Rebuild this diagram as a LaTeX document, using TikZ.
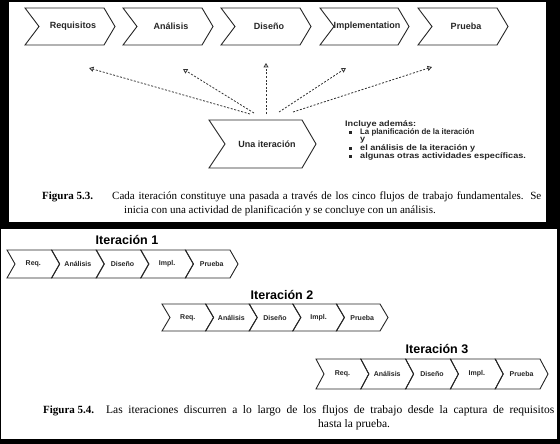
\documentclass[tikz,border=0pt]{standalone}
\usepackage{fontspec}
\setmainfont{Liberation Serif}
\newfontfamily\sansf{Liberation Sans}
\usetikzlibrary{arrows.meta}
\newcommand\chev[6]{\draw[chevline] (#1,#2) -- ++({#3-#6},0) -- ++(#6,{#4/2}) -- ++(-#6,{#4/2}) -- ++({-(#3-#6)},0) -- ++(#5,{-#4/2}) -- cycle;}
\newcommand\widetxt[1]{\scalebox{1.14}[1]{#1}}
\begin{document}
\begin{tikzpicture}[x=1pt,y=-1pt,
  chevline/.style={draw=black!85, line width=0.9pt, line join=miter},
  toplabel/.style={font=\sansf\bfseries\fontsize{9}{10}\selectfont, inner sep=0pt, text=black!85},
  smalllabel/.style={font=\sansf\bfseries\fontsize{7}{8}\selectfont, inner sep=0pt, text=black!85},
  itlabel/.style={font=\sansf\bfseries\fontsize{12.5}{13}\selectfont, inner sep=0pt},
  notelabel/.style={font=\sansf\bfseries\fontsize{8}{8}\selectfont, inner sep=0pt, anchor=west, text=black!85},
  bulletmark/.style={fill=black!85, minimum size=3pt, inner sep=0pt},
  caplabel/.style={font=\fontsize{11}{13}\selectfont, inner sep=0pt, anchor=west},
  capbold/.style={font=\bfseries\fontsize{11}{13}\selectfont, inner sep=0pt, anchor=west},
  dasharrow/.style={draw=black!80, line width=0.8pt, dash pattern=on 2pt off 1.6pt, -{Triangle[open,length=4.5pt,width=5pt]}}
]
\useasboundingbox (0,0) rectangle (560,444);
\fill[black] (0,0) rectangle (560,444);
\fill[white] (9,2) rectangle (546,222);
\fill[white] (1,229) rectangle (557,439);

% ---- top: five workflows
\chev{25}{8}{90}{37}{14}{11}
\chev{123}{8}{90}{37}{14}{11}
\chev{221}{8}{90}{37}{14}{11}
\chev{320}{8}{89}{37}{14}{11}
\chev{418}{8}{90}{37}{14}{11}
\node[toplabel] (req) at (73,26.5) {Requisitos};
\node[toplabel] (ana) at (171,26.5) {Análisis};
\node[toplabel] (dis) at (269,26.5) {Diseño};
\node[toplabel] (imp) at (367,26.5) {Implementation};
\node[toplabel] (pru) at (466,26.5) {Prueba};

% ---- one iteration
\chev{209}{120}{107}{48}{16}{14}
\node[toplabel] (una) at (267,144) {Una iteración};

% ---- dashed arrows
\coordinate (t1) at (250,114); \coordinate (h1) at (89,68);
\coordinate (t2) at (254,113); \coordinate (h2) at (183,69);
\coordinate (t3) at (266,114); \coordinate (h3) at (266,63);
\coordinate (t4) at (279,112); \coordinate (h4) at (346,68);
\coordinate (t5) at (293,112); \coordinate (h5) at (432,67);
\draw[dasharrow] (t1) -- (h1);
\draw[dasharrow] (t2) -- (h2);
\draw[dasharrow] (t3) -- (h3);
\draw[dasharrow] (t4) -- (h4);
\draw[dasharrow] (t5) -- (h5);

% ---- notes
\node[notelabel] (inc) at (345,124.5) {\widetxt{Incluye además:}};
\node[bulletmark] (b1) at (350,132.5) {};
\node[notelabel] (n1) at (360,132.5) {\scalebox{0.98}[1]{La planificación de la iteración}};
\node[notelabel] (n2) at (360,140.5) {\widetxt{y}};
\node[bulletmark] (b3) at (350,148.5) {};
\node[notelabel] (n3) at (360,148.5) {\widetxt{el análisis de la iteración y}};
\node[bulletmark] (b4) at (350,156.5) {};
\node[notelabel] (n4) at (360,156.5) {\widetxt{algunas otras actividades específicas.}};

% ---- caption 5.3
\node[capbold] (f3) at (42,197) {Figura 5.3.};
\node[caplabel] (c3a) at (112,197) {\makebox[429pt][s]{Cada iteración constituye una pasada a través de los cinco flujos de trabajo fundamentales. Se}};
\node[caplabel] (c3b) at (124,211) {inicia con una actividad de planificación y se concluye con un análisis.};

% ---- iteration 1
\node[itlabel] (it1) at (127,240) {Iteración 1};
\chev{7}{250}{52.6}{28}{8}{8}
\chev{51.6}{250}{52.6}{28}{8}{8}
\chev{96.2}{250}{52.6}{28}{8}{8}
\chev{140.8}{250}{52.6}{28}{8}{8}
\chev{185.4}{250}{52.6}{28}{8}{8}
\node[smalllabel] (a1) at (33.3,264) {Req.};
\node[smalllabel] (a2) at (77.9,264) {Análisis};
\node[smalllabel] (a3) at (122.5,264) {Diseño};
\node[smalllabel] (a4) at (167.1,264) {Impl.};
\node[smalllabel] (a5) at (211.7,264) {Prueba};

% ---- iteration 2
\node[itlabel] (it2) at (282,295) {Iteración 2};
\chev{162}{304}{51.6}{27}{8}{8}
\chev{205.6}{304}{51.6}{27}{8}{8}
\chev{249.2}{304}{51.6}{27}{8}{8}
\chev{292.8}{304}{51.6}{27}{8}{8}
\chev{336.4}{304}{51.6}{27}{8}{8}
\node[smalllabel] (b21) at (187.8,317.5) {Req.};
\node[smalllabel] (b22) at (231.4,317.5) {Análisis};
\node[smalllabel] (b23) at (275,317.5) {Diseño};
\node[smalllabel] (b24) at (318.6,317.5) {Impl.};
\node[smalllabel] (b25) at (362.2,317.5) {Prueba};

% ---- iteration 3
\node[itlabel] (it3) at (437,349) {Iteración 3};
\chev{316}{359}{52.8}{30}{8}{8}
\chev{360.8}{359}{52.8}{30}{8}{8}
\chev{405.6}{359}{52.8}{30}{8}{8}
\chev{450.4}{359}{52.8}{30}{8}{8}
\chev{495.2}{359}{52.8}{30}{8}{8}
\node[smalllabel] (c31) at (342.4,374) {Req.};
\node[smalllabel] (c32) at (387.2,374) {Análisis};
\node[smalllabel] (c33) at (432,374) {Diseño};
\node[smalllabel] (c34) at (476.8,374) {Impl.};
\node[smalllabel] (c35) at (521.6,374) {Prueba};

% ---- caption 5.4
\node[capbold] (f4) at (43,411) {Figura 5.4.};
\node[caplabel, font=\fontsize{11.5}{13}\selectfont] (c4a) at (106,411) {\makebox[448pt][s]{Las iteraciones discurren a lo largo de los flujos de trabajo desde la captura de requisitos}};
\node[caplabel, font=\fontsize{11.5}{13}\selectfont] (c4b) at (318,424.5) {hasta la prueba.};
\end{tikzpicture}
\end{document}
